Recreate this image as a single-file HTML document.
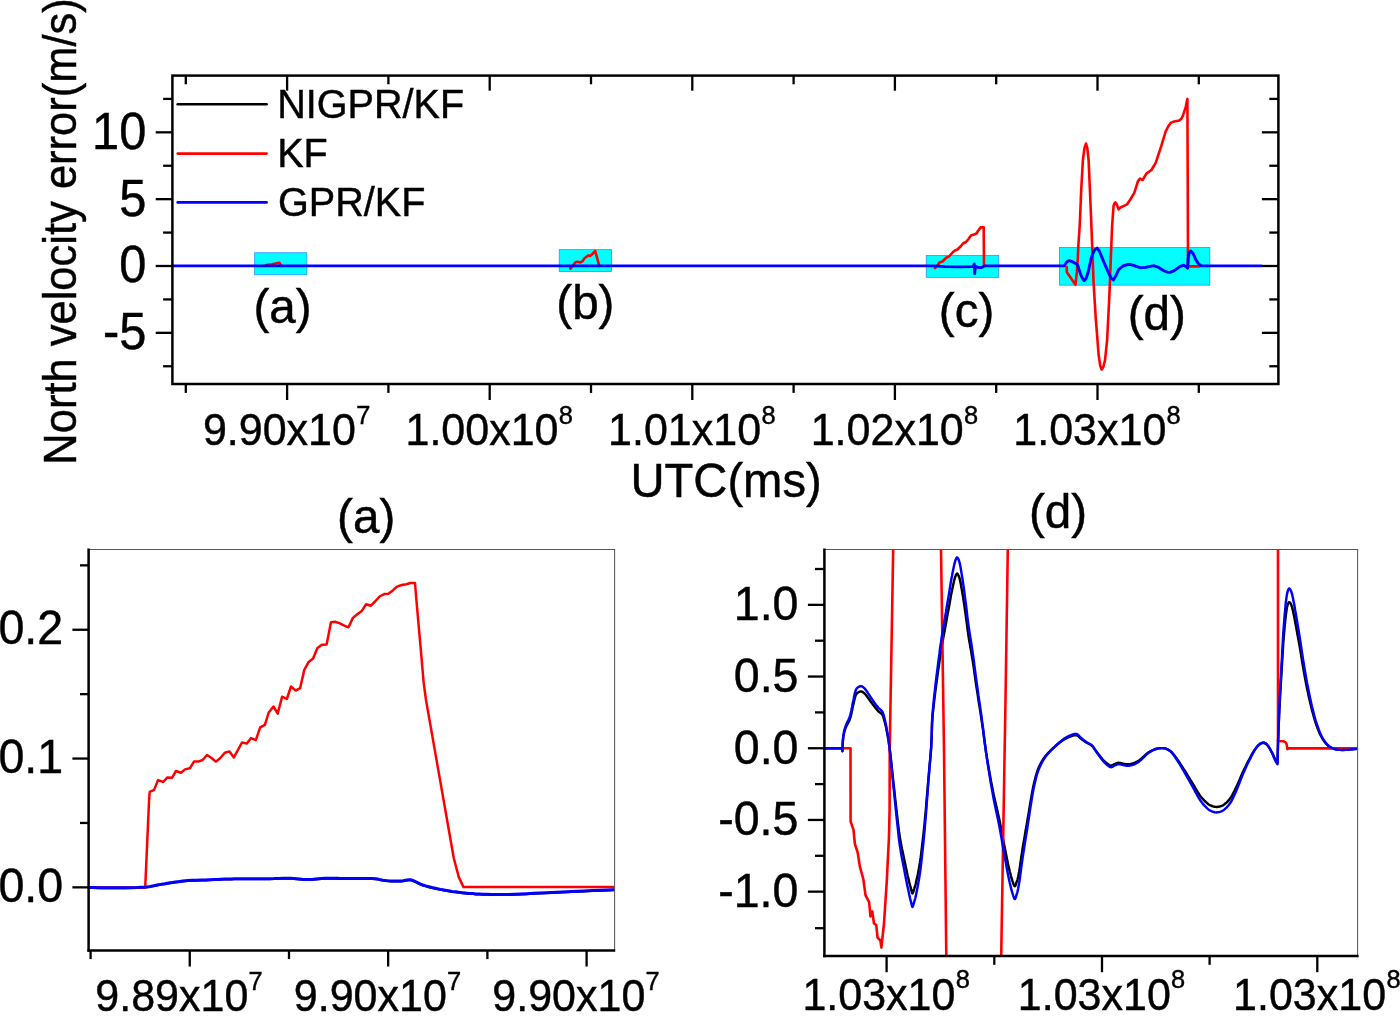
<!DOCTYPE html>
<html><head><meta charset="utf-8"><title>North velocity error</title>
<style>
html,body{margin:0;padding:0;background:#fff;}
body{width:1400px;height:1022px;overflow:hidden;}
svg{display:block;will-change:transform;}
svg text{font-family:"Liberation Sans",sans-serif;fill:#000;stroke:#000;stroke-width:0.45px;}
</style></head><body>
<svg width="1400" height="1022" viewBox="0 0 1400 1022">
<rect width="1400" height="1022" fill="#fff"/>
<rect x="254.65" y="252.75" width="52.20" height="22.00" fill="#00ffff" stroke="#3b8cff" stroke-width="0.8"/>
<rect x="559.25" y="249.65" width="52.20" height="21.80" fill="#00ffff" stroke="#3b8cff" stroke-width="0.8"/>
<rect x="926.25" y="255.55" width="72.50" height="21.80" fill="#00ffff" stroke="#3b8cff" stroke-width="0.8"/>
<rect x="1059.45" y="247.55" width="150.40" height="37.60" fill="#00ffff" stroke="#3b8cff" stroke-width="0.8"/>
<polyline points="265.3,265.9 266.2,265.0 272.0,264.2 279.3,262.7 280.0,263.5 281.2,265.9" fill="none" stroke="#f00" stroke-width="2.6" stroke-linejoin="round" stroke-linecap="butt" />
<polyline points="570.0,265.9 570.5,268.7 573.0,265.5 575.5,262.2 577.5,261.7 580.5,262.4 582.5,261.2 584.5,258.3 586.5,256.8 588.5,255.4 590.0,255.9 592.0,254.5 594.3,252.0 595.2,251.0 599.3,265.9" fill="none" stroke="#f00" stroke-width="2.6" stroke-linejoin="round" stroke-linecap="butt" />
<polyline points="934.6,265.9 935.0,268.2 937.5,265.5 939.5,262.5 942.5,261.5 946.5,257.5 949.0,256.5 953.0,252.0 955.0,250.5 957.5,249.5 961.0,246.0 963.0,243.5 966.0,242.0 968.5,239.0 971.0,235.5 974.0,234.5 976.5,233.5 978.0,231.0 980.7,227.4 983.7,227.2 984.0,265.9" fill="none" stroke="#f00" stroke-width="2.6" stroke-linejoin="round" stroke-linecap="butt" />
<polyline points="1066.6,265.9 1066.9,272.3 1075.5,284.8 1076.9,271.4 1077.8,258.2 1078.5,243.0 1079.7,226.0 1081.2,190.0 1082.9,160.0 1084.5,148.0 1086.0,143.6 1087.3,148.0 1088.6,160.0 1090.0,192.0 1091.4,226.0 1093.6,283.1 1095.7,317.4 1098.6,354.6 1100.3,366.0 1101.7,369.6 1103.3,367.0 1105.0,360.3 1107.1,340.3 1109.3,297.4 1110.7,261.7 1112.1,226.0 1113.6,205.7 1114.5,203.2 1115.4,202.4 1116.5,204.0 1118.6,209.3 1120.5,207.5 1122.9,206.4 1127.1,204.3 1130.0,200.0 1134.3,192.9 1137.9,181.4 1140.0,178.6 1142.6,180.0 1146.4,173.6 1151.4,170.0 1155.7,162.9 1161.4,145.7 1165.7,131.4 1168.5,126.0 1170.7,122.9 1174.3,121.4 1179.3,120.4 1181.5,118.5 1182.9,115.7 1185.7,107.1 1187.4,98.9 1187.9,225.7 1188.0,266.4 1200.5,266.4" fill="none" stroke="#f00" stroke-width="2.6" stroke-linejoin="round" stroke-linecap="butt" />
<polyline points="172.4,265.9 934.0,265.9 945.0,266.6 960.0,266.9 972.0,266.6 973.6,266.0 974.2,263.9 974.7,273.6 975.3,266.2 977.5,267.3 981.5,267.6 983.5,266.5 985.0,265.9 1064.3,265.9 1066.2,262.6 1067.8,261.2 1069.5,260.7 1072.0,261.6 1074.3,262.7 1076.5,264.0 1077.8,265.6 1080.7,274.6 1082.5,278.5 1084.3,280.7 1086.0,278.5 1087.9,273.1 1091.4,257.4 1093.3,252.5 1095.0,249.6 1097.1,248.1 1099.3,251.0 1104.3,263.1 1109.3,274.6 1111.5,278.5 1113.3,280.0 1115.7,276.0 1118.6,269.6 1122.9,266.0 1126.5,264.8 1130.0,264.3 1134.3,265.7 1140.0,267.7 1145.7,267.4 1150.0,266.3 1153.6,265.6 1158.6,267.4 1164.3,271.0 1167.5,272.1 1170.0,272.4 1174.3,270.6 1180.0,266.4 1183.6,265.3 1186.4,266.7 1187.6,268.1 1188.3,257.4 1189.3,252.8 1190.7,251.0 1192.9,253.1 1195.7,259.6 1198.6,263.9 1201.4,265.7 1204.0,265.9 1262.0,265.9" fill="none" stroke="#00f" stroke-width="2.9" stroke-linejoin="round" stroke-linecap="butt" />
<rect x="172.4" y="75.6" width="1106.0" height="308.4" fill="none" stroke="#000" stroke-width="2.5"/>
<line x1="287.10" y1="384.00" x2="287.10" y2="400.00" stroke="#000" stroke-width="2.3" />
<line x1="287.10" y1="75.60" x2="287.10" y2="90.70" stroke="#000" stroke-width="2.3" />
<line x1="489.70" y1="384.00" x2="489.70" y2="400.00" stroke="#000" stroke-width="2.3" />
<line x1="489.70" y1="75.60" x2="489.70" y2="90.70" stroke="#000" stroke-width="2.3" />
<line x1="692.30" y1="384.00" x2="692.30" y2="400.00" stroke="#000" stroke-width="2.3" />
<line x1="692.30" y1="75.60" x2="692.30" y2="90.70" stroke="#000" stroke-width="2.3" />
<line x1="894.90" y1="384.00" x2="894.90" y2="400.00" stroke="#000" stroke-width="2.3" />
<line x1="894.90" y1="75.60" x2="894.90" y2="90.70" stroke="#000" stroke-width="2.3" />
<line x1="1097.50" y1="384.00" x2="1097.50" y2="400.00" stroke="#000" stroke-width="2.3" />
<line x1="1097.50" y1="75.60" x2="1097.50" y2="90.70" stroke="#000" stroke-width="2.3" />
<line x1="185.80" y1="384.00" x2="185.80" y2="392.90" stroke="#000" stroke-width="2.3" />
<line x1="185.80" y1="75.60" x2="185.80" y2="84.30" stroke="#000" stroke-width="2.3" />
<line x1="388.40" y1="384.00" x2="388.40" y2="392.90" stroke="#000" stroke-width="2.3" />
<line x1="388.40" y1="75.60" x2="388.40" y2="84.30" stroke="#000" stroke-width="2.3" />
<line x1="591.00" y1="384.00" x2="591.00" y2="392.90" stroke="#000" stroke-width="2.3" />
<line x1="591.00" y1="75.60" x2="591.00" y2="84.30" stroke="#000" stroke-width="2.3" />
<line x1="793.60" y1="384.00" x2="793.60" y2="392.90" stroke="#000" stroke-width="2.3" />
<line x1="793.60" y1="75.60" x2="793.60" y2="84.30" stroke="#000" stroke-width="2.3" />
<line x1="996.20" y1="384.00" x2="996.20" y2="392.90" stroke="#000" stroke-width="2.3" />
<line x1="996.20" y1="75.60" x2="996.20" y2="84.30" stroke="#000" stroke-width="2.3" />
<line x1="1198.80" y1="384.00" x2="1198.80" y2="392.90" stroke="#000" stroke-width="2.3" />
<line x1="1198.80" y1="75.60" x2="1198.80" y2="84.30" stroke="#000" stroke-width="2.3" />
<line x1="155.70" y1="132.33" x2="172.40" y2="132.33" stroke="#000" stroke-width="2.3" />
<line x1="1261.90" y1="132.33" x2="1278.40" y2="132.33" stroke="#000" stroke-width="2.3" />
<line x1="155.70" y1="199.16" x2="172.40" y2="199.16" stroke="#000" stroke-width="2.3" />
<line x1="1261.90" y1="199.16" x2="1278.40" y2="199.16" stroke="#000" stroke-width="2.3" />
<line x1="155.70" y1="266.00" x2="172.40" y2="266.00" stroke="#000" stroke-width="2.3" />
<line x1="1261.90" y1="266.00" x2="1278.40" y2="266.00" stroke="#000" stroke-width="2.3" />
<line x1="155.70" y1="332.84" x2="172.40" y2="332.84" stroke="#000" stroke-width="2.3" />
<line x1="1261.90" y1="332.84" x2="1278.40" y2="332.84" stroke="#000" stroke-width="2.3" />
<line x1="163.10" y1="98.91" x2="172.40" y2="98.91" stroke="#000" stroke-width="2.3" />
<line x1="1269.30" y1="98.91" x2="1278.40" y2="98.91" stroke="#000" stroke-width="2.3" />
<line x1="163.10" y1="165.75" x2="172.40" y2="165.75" stroke="#000" stroke-width="2.3" />
<line x1="1269.30" y1="165.75" x2="1278.40" y2="165.75" stroke="#000" stroke-width="2.3" />
<line x1="163.10" y1="232.58" x2="172.40" y2="232.58" stroke="#000" stroke-width="2.3" />
<line x1="1269.30" y1="232.58" x2="1278.40" y2="232.58" stroke="#000" stroke-width="2.3" />
<line x1="163.10" y1="299.42" x2="172.40" y2="299.42" stroke="#000" stroke-width="2.3" />
<line x1="1269.30" y1="299.42" x2="1278.40" y2="299.42" stroke="#000" stroke-width="2.3" />
<line x1="163.10" y1="366.25" x2="172.40" y2="366.25" stroke="#000" stroke-width="2.3" />
<line x1="1269.30" y1="366.25" x2="1278.40" y2="366.25" stroke="#000" stroke-width="2.3" />
<text x="146.30" y="148.73" font-size="51.09" text-anchor="end" textLength="54.28" lengthAdjust="spacingAndGlyphs" >10</text>
<text x="146.30" y="215.56" font-size="51.09" text-anchor="end" textLength="27.14" lengthAdjust="spacingAndGlyphs" >5</text>
<text x="146.30" y="282.40" font-size="51.09" text-anchor="end" textLength="27.14" lengthAdjust="spacingAndGlyphs" >0</text>
<text x="146.30" y="349.24" font-size="51.09" text-anchor="end" textLength="43.39" lengthAdjust="spacingAndGlyphs" >-5</text>
<text x="202.90" y="444.70" font-size="44.50" text-anchor="start" textLength="153.02" lengthAdjust="spacingAndGlyphs" >9.90x10</text>
<text x="356.22" y="423.70" font-size="26.65" text-anchor="start" textLength="14.18" lengthAdjust="spacingAndGlyphs" >7</text>
<text x="405.50" y="444.70" font-size="44.50" text-anchor="start" textLength="153.02" lengthAdjust="spacingAndGlyphs" >1.00x10</text>
<text x="558.82" y="423.70" font-size="26.65" text-anchor="start" textLength="14.18" lengthAdjust="spacingAndGlyphs" >8</text>
<text x="608.10" y="444.70" font-size="44.50" text-anchor="start" textLength="153.02" lengthAdjust="spacingAndGlyphs" >1.01x10</text>
<text x="761.42" y="423.70" font-size="26.65" text-anchor="start" textLength="14.18" lengthAdjust="spacingAndGlyphs" >8</text>
<text x="810.70" y="444.70" font-size="44.50" text-anchor="start" textLength="153.02" lengthAdjust="spacingAndGlyphs" >1.02x10</text>
<text x="964.02" y="423.70" font-size="26.65" text-anchor="start" textLength="14.18" lengthAdjust="spacingAndGlyphs" >8</text>
<text x="1013.30" y="444.70" font-size="44.50" text-anchor="start" textLength="153.02" lengthAdjust="spacingAndGlyphs" >1.03x10</text>
<text x="1166.62" y="423.70" font-size="26.65" text-anchor="start" textLength="14.18" lengthAdjust="spacingAndGlyphs" >8</text>
<text x="630.40" y="496.80" font-size="47.91" text-anchor="start" textLength="191.36" lengthAdjust="spacingAndGlyphs" >UTC(ms)</text>
<text x="0.00" y="0.00" font-size="45.46" text-anchor="start" textLength="466.48" lengthAdjust="spacingAndGlyphs" transform="translate(76.3,464.7) rotate(-90)">North velocity error(m/s)</text>
<line x1="177.70" y1="104.30" x2="266.60" y2="104.30" stroke="#000" stroke-width="2.6" stroke-linecap="round"/>
<line x1="177.70" y1="153.60" x2="266.60" y2="153.60" stroke="#f00" stroke-width="2.6" stroke-linecap="round"/>
<line x1="177.70" y1="202.40" x2="266.60" y2="202.40" stroke="#00f" stroke-width="2.6" stroke-linecap="round"/>
<text x="277.20" y="117.70" font-size="41.38" text-anchor="start" textLength="187.02" lengthAdjust="spacingAndGlyphs" >NIGPR/KF</text>
<text x="277.20" y="166.70" font-size="41.38" text-anchor="start" textLength="50.60" lengthAdjust="spacingAndGlyphs" >KF</text>
<text x="278.00" y="215.80" font-size="41.38" text-anchor="start" textLength="147.42" lengthAdjust="spacingAndGlyphs" >GPR/KF</text>
<text x="282.50" y="322.70" font-size="47.60" text-anchor="middle" textLength="58.18" lengthAdjust="spacingAndGlyphs" >(a)</text>
<text x="585.40" y="319.20" font-size="47.60" text-anchor="middle" textLength="58.18" lengthAdjust="spacingAndGlyphs" >(b)</text>
<text x="966.60" y="327.00" font-size="47.60" text-anchor="middle" textLength="55.50" lengthAdjust="spacingAndGlyphs" >(c)</text>
<text x="1156.80" y="330.00" font-size="47.60" text-anchor="middle" textLength="58.18" lengthAdjust="spacingAndGlyphs" >(d)</text>
<clipPath id="ca"><rect x="88.7" y="549.4" width="526.1" height="401"/></clipPath>
<g clip-path="url(#ca)">
<polyline points="88.7,888.0 92.1,888.0 100.8,888.1 112.8,888.2 125.6,888.1 137.3,887.9 145.6,887.5 148.0,887.2 150.0,886.9 151.8,886.5 153.5,886.2 155.2,885.8 157.1,885.4 159.5,885.0 162.1,884.5 164.7,884.1 167.3,883.6 170.0,883.2 172.6,882.8 175.1,882.4 177.6,882.1 180.1,881.8 182.6,881.5 185.2,881.2 188.0,881.0 191.9,880.7 196.2,880.6 200.6,880.4 205.1,880.3 209.5,880.1 213.7,880.0 217.2,879.9 220.6,879.7 223.9,879.5 227.2,879.4 230.7,879.3 234.3,879.2 239.1,879.1 244.2,879.1 249.5,879.2 254.8,879.2 260.1,879.2 265.1,879.2 269.6,879.1 274.1,879.0 278.5,878.8 282.8,878.7 287.0,878.7 290.9,878.7 293.9,878.9 296.7,879.1 299.5,879.4 302.2,879.7 304.9,879.9 307.6,880.0 310.3,879.9 313.0,879.7 315.7,879.4 318.5,879.1 321.3,878.9 324.3,878.7 328.3,878.6 332.5,878.6 336.8,878.7 341.2,878.8 345.7,878.9 350.0,879.0 354.4,879.0 359.0,879.0 363.6,878.9 368.0,878.9 372.1,879.0 375.7,879.2 377.7,879.4 379.4,879.8 381.0,880.1 382.6,880.5 384.2,880.8 386.0,881.0 388.4,881.2 391.1,881.3 393.8,881.4 396.5,881.4 399.0,881.4 401.4,881.3 403.0,881.1 404.5,880.8 406.0,880.5 407.4,880.3 408.9,880.1 410.4,880.2 412.4,880.7 414.3,881.4 416.4,882.4 418.5,883.5 420.6,884.5 422.9,885.4 425.8,886.3 428.8,887.1 432.0,887.9 435.2,888.6 438.5,889.3 441.7,890.0 445.1,890.6 448.5,891.2 452.0,891.8 455.5,892.2 459.0,892.7 462.5,893.1 465.9,893.5 469.4,893.8 472.8,894.0 476.2,894.3 479.7,894.4 483.3,894.6 487.3,894.7 491.3,894.8 495.3,894.9 499.5,894.9 503.8,894.9 508.3,894.8 514.2,894.6 520.4,894.4 526.8,894.1 533.3,893.7 539.7,893.4 545.8,893.1 551.1,892.9 556.3,892.6 561.4,892.4 566.5,892.2 571.7,891.9 577.0,891.7 584.0,891.4 592.2,891.0 600.5,890.6 607.8,890.3 613.0,890.1 615.0,890.0" fill="none" stroke="#000" stroke-width="2.2" stroke-linejoin="round" stroke-linecap="butt" />
<polyline points="88.7,887.6 145.2,887.6 149.1,799.6 149.7,791.8 154.1,789.9 158.0,780.1 163.2,782.0 167.4,777.4 172.1,777.7 176.0,771.0 181.0,772.7 185.1,769.4 189.8,768.3 194.0,761.6 198.2,761.6 202.6,760.0 207.0,755.0 211.2,757.7 215.9,761.6 220.1,758.2 224.8,752.7 229.5,751.4 233.9,757.4 242.0,742.5 246.9,743.6 251.1,738.1 255.8,740.2 260.2,727.3 264.9,724.8 268.7,712.5 273.5,706.5 277.7,713.6 282.1,696.7 286.8,699.0 291.0,686.5 295.7,690.6 300.1,688.2 304.3,669.9 308.7,661.9 313.1,658.5 317.4,648.0 321.9,644.8 326.6,644.5 331.0,622.3 335.2,621.8 339.9,623.4 344.3,625.7 348.5,627.3 352.9,617.9 357.6,614.0 361.8,610.9 366.1,604.3 370.9,605.7 375.1,601.5 379.5,596.5 384.2,594.1 388.4,593.7 393.1,590.2 397.0,586.6 401.7,585.0 406.4,584.3 410.3,583.0 415.0,583.0 416.6,602.3 420.5,646.1 423.6,682.1 426.0,700.0 453.8,858.3 458.8,877.1 463.5,887.1 615.0,887.1" fill="none" stroke="#f00" stroke-width="2.5" stroke-linejoin="round" stroke-linecap="butt" />
<polyline points="88.7,887.6 92.1,887.6 100.8,887.7 112.8,887.8 125.6,887.7 137.3,887.5 145.6,887.1 148.0,886.8 150.0,886.5 151.8,886.1 153.5,885.8 155.2,885.4 157.1,885.0 159.5,884.6 162.1,884.1 164.7,883.7 167.3,883.2 170.0,882.8 172.6,882.4 175.1,882.0 177.6,881.7 180.1,881.4 182.6,881.1 185.2,880.8 188.0,880.6 191.9,880.3 196.2,880.2 200.6,880.0 205.1,879.9 209.5,879.7 213.7,879.6 217.2,879.5 220.6,879.3 223.9,879.1 227.2,879.0 230.7,878.9 234.3,878.8 239.1,878.7 244.2,878.7 249.5,878.8 254.8,878.8 260.1,878.8 265.1,878.8 269.6,878.7 274.1,878.6 278.5,878.4 282.8,878.3 287.0,878.3 290.9,878.3 293.9,878.5 296.7,878.7 299.5,879.0 302.2,879.3 304.9,879.5 307.6,879.6 310.3,879.5 313.0,879.3 315.7,879.0 318.5,878.7 321.3,878.5 324.3,878.3 328.3,878.2 332.5,878.2 336.8,878.3 341.2,878.4 345.7,878.5 350.0,878.6 354.4,878.6 359.0,878.6 363.6,878.5 368.0,878.5 372.1,878.6 375.7,878.8 377.7,879.0 379.4,879.4 381.0,879.7 382.6,880.1 384.2,880.4 386.0,880.6 388.4,880.8 391.1,880.9 393.8,881.0 396.5,881.0 399.0,881.0 401.4,880.9 403.0,880.7 404.5,880.4 406.0,880.1 407.4,879.9 408.9,879.7 410.4,879.8 412.4,880.3 414.3,881.0 416.4,882.0 418.5,883.1 420.6,884.1 422.9,885.0 425.8,885.9 428.8,886.7 432.0,887.5 435.2,888.2 438.5,888.9 441.7,889.6 445.1,890.2 448.5,890.8 452.0,891.4 455.5,891.8 459.0,892.3 462.5,892.7 465.9,893.1 469.4,893.4 472.8,893.6 476.2,893.9 479.7,894.0 483.3,894.2 487.3,894.3 491.3,894.4 495.3,894.5 499.5,894.5 503.8,894.5 508.3,894.4 514.2,894.2 520.4,894.0 526.8,893.7 533.3,893.3 539.7,893.0 545.8,892.7 551.1,892.5 556.3,892.2 561.4,892.0 566.5,891.8 571.7,891.5 577.0,891.3 584.0,891.0 592.2,890.6 600.5,890.2 607.8,889.9 613.0,889.7 615.0,889.6" fill="none" stroke="#00f" stroke-width="3.0" stroke-linejoin="round" stroke-linecap="butt" />
</g>
<line x1="88.70" y1="549.45" x2="615.10" y2="549.45" stroke="#585858" stroke-width="1.05" />
<line x1="614.60" y1="549.00" x2="614.60" y2="951.30" stroke="#585858" stroke-width="1.05" />
<line x1="88.60" y1="548.40" x2="88.60" y2="951.70" stroke="#000" stroke-width="2.5" />
<line x1="87.45" y1="950.45" x2="615.20" y2="950.45" stroke="#000" stroke-width="2.5" />
<line x1="189.75" y1="950.45" x2="189.75" y2="966.50" stroke="#000" stroke-width="2.3" />
<line x1="388.15" y1="950.45" x2="388.15" y2="966.50" stroke="#000" stroke-width="2.3" />
<line x1="586.60" y1="950.45" x2="586.60" y2="966.50" stroke="#000" stroke-width="2.3" />
<line x1="90.60" y1="950.45" x2="90.60" y2="959.10" stroke="#000" stroke-width="2.3" />
<line x1="289.00" y1="950.45" x2="289.00" y2="959.10" stroke="#000" stroke-width="2.3" />
<line x1="487.40" y1="950.45" x2="487.40" y2="959.10" stroke="#000" stroke-width="2.3" />
<line x1="72.40" y1="629.75" x2="88.70" y2="629.75" stroke="#000" stroke-width="2.3" />
<line x1="72.40" y1="758.55" x2="88.70" y2="758.55" stroke="#000" stroke-width="2.3" />
<line x1="72.40" y1="887.35" x2="88.70" y2="887.35" stroke="#000" stroke-width="2.3" />
<line x1="80.00" y1="565.35" x2="88.70" y2="565.35" stroke="#000" stroke-width="2.3" />
<line x1="80.00" y1="694.15" x2="88.70" y2="694.15" stroke="#000" stroke-width="2.3" />
<line x1="80.00" y1="822.95" x2="88.70" y2="822.95" stroke="#000" stroke-width="2.3" />
<text x="63.20" y="644.05" font-size="48.93" text-anchor="end" textLength="64.78" lengthAdjust="spacingAndGlyphs" >0.2</text>
<text x="63.20" y="772.85" font-size="48.93" text-anchor="end" textLength="64.78" lengthAdjust="spacingAndGlyphs" >0.1</text>
<text x="63.20" y="901.65" font-size="48.93" text-anchor="end" textLength="64.78" lengthAdjust="spacingAndGlyphs" >0.0</text>
<text x="95.30" y="1010.60" font-size="44.50" text-anchor="start" textLength="153.02" lengthAdjust="spacingAndGlyphs" >9.89x10</text>
<text x="248.62" y="989.90" font-size="26.65" text-anchor="start" textLength="14.18" lengthAdjust="spacingAndGlyphs" >7</text>
<text x="293.80" y="1010.60" font-size="44.50" text-anchor="start" textLength="153.02" lengthAdjust="spacingAndGlyphs" >9.90x10</text>
<text x="447.12" y="989.90" font-size="26.65" text-anchor="start" textLength="14.18" lengthAdjust="spacingAndGlyphs" >7</text>
<text x="492.30" y="1010.60" font-size="44.50" text-anchor="start" textLength="153.02" lengthAdjust="spacingAndGlyphs" >9.90x10</text>
<text x="645.62" y="989.90" font-size="26.65" text-anchor="start" textLength="14.18" lengthAdjust="spacingAndGlyphs" >7</text>
<text x="366.20" y="533.20" font-size="47.60" text-anchor="middle" textLength="58.18" lengthAdjust="spacingAndGlyphs" >(a)</text>
<clipPath id="cd"><rect x="824.4" y="549.4" width="533.2" height="406.7"/></clipPath>
<g clip-path="url(#cd)">
<polyline points="824.4,748.3 841.8,748.3 842.4,751.0 842.4,750.3 842.5,748.6 842.6,746.2 842.7,743.5 842.9,740.8 843.1,738.6 843.3,737.0 843.6,735.4 843.9,733.9 844.2,732.4 844.6,730.9 845.1,729.4 845.8,727.6 846.6,725.8 847.5,724.0 848.5,722.2 849.4,720.3 850.1,718.4 850.7,716.3 851.3,714.1 851.7,711.9 852.2,709.8 852.6,707.6 853.1,705.5 853.6,703.5 854.0,701.4 854.5,699.4 855.0,697.5 855.5,695.8 856.1,694.5 856.5,694.0 856.8,693.5 857.2,693.1 857.6,692.8 858.1,692.5 858.5,692.2 858.9,692.0 859.3,691.8 859.8,691.6 860.2,691.5 860.7,691.4 861.1,691.4 861.5,691.5 862.0,691.6 862.4,691.8 862.8,692.1 863.2,692.4 863.6,692.7 864.0,693.0 864.5,693.4 864.9,693.8 865.3,694.3 865.7,694.8 866.2,695.4 867.1,696.5 868.0,697.8 869.1,699.3 870.1,700.8 871.2,702.3 872.2,703.6 873.2,704.9 874.2,706.3 875.2,707.6 876.3,708.8 877.2,710.0 878.2,711.1 878.9,711.7 879.6,712.3 880.3,712.8 881.0,713.4 881.6,714.0 882.2,714.7 882.9,715.9 883.4,717.3 883.9,718.8 884.3,720.5 884.8,722.2 885.2,723.9 885.8,726.1 886.3,728.6 886.8,731.2 887.3,733.8 887.8,736.3 888.2,738.6 888.5,740.2 888.7,741.7 888.9,743.1 889.1,744.6 889.4,746.2 889.6,748.0 890.0,751.6 890.5,755.7 891.0,760.2 891.5,764.8 892.0,769.5 892.5,774.1 893.0,778.8 893.5,783.5 894.1,788.3 894.6,793.1 895.1,798.0 895.7,803.0 896.3,808.7 897.0,814.6 897.7,820.7 898.4,826.6 899.1,832.3 899.9,837.6 900.6,841.5 901.2,845.1 901.9,848.6 902.7,852.0 903.4,855.4 904.1,858.8 904.8,862.2 905.5,865.5 906.2,868.8 906.9,872.1 907.6,875.2 908.3,878.0 908.8,880.1 909.2,882.1 909.7,884.0 910.2,885.8 910.6,887.4 911.0,888.9 911.3,889.9 911.5,890.9 911.8,891.9 912.0,892.7 912.2,893.2 912.5,893.4 912.7,893.2 913.0,892.7 913.2,892.0 913.5,891.1 913.8,890.2 914.0,889.4 914.3,888.6 914.6,887.7 914.8,886.9 915.1,886.0 915.4,885.0 915.7,883.8 916.3,881.1 917.0,878.0 917.8,874.4 918.5,870.6 919.2,866.7 919.9,862.7 920.7,857.4 921.4,851.8 922.1,845.9 922.8,839.9 923.5,833.9 924.1,828.0 924.7,822.2 925.2,816.3 925.8,810.4 926.3,804.5 926.7,798.9 927.2,793.4 927.6,789.0 927.9,784.7 928.3,780.5 928.6,776.4 929.0,772.3 929.3,768.3 929.6,764.7 930.0,761.3 930.3,757.8 930.6,754.4 930.9,750.8 931.2,747.1 931.4,742.6 931.6,737.8 931.8,733.0 931.9,728.1 932.1,723.2 932.4,718.4 932.8,713.7 933.3,709.0 933.8,704.4 934.3,699.8 934.9,695.2 935.4,690.8 935.9,687.0 936.4,683.3 936.9,679.6 937.4,676.0 937.9,672.4 938.4,668.8 938.9,665.4 939.4,662.0 939.8,658.7 940.3,655.3 940.9,652.0 941.4,648.6 942.0,644.9 942.7,641.3 943.3,637.6 944.0,633.9 944.7,630.2 945.4,626.5 946.1,622.8 946.7,619.1 947.4,615.3 948.1,611.6 948.8,608.0 949.4,604.6 949.9,601.6 950.4,598.8 950.9,595.9 951.4,593.2 952.0,590.6 952.5,588.0 953.0,585.8 953.5,583.5 954.0,581.3 954.5,579.3 955.0,577.5 955.5,576.1 955.8,575.5 956.0,574.9 956.3,574.4 956.6,574.0 956.8,573.7 957.1,573.6 957.4,573.8 957.8,574.2 958.1,574.8 958.5,575.5 958.8,576.2 959.1,577.0 959.6,578.4 960.0,580.1 960.4,581.9 960.8,583.9 961.1,585.9 961.5,588.0 962.0,590.7 962.5,593.6 963.0,596.6 963.5,599.8 964.0,603.0 964.5,606.4 965.1,610.9 965.8,615.8 966.5,620.8 967.1,625.9 967.8,631.0 968.5,635.8 969.1,639.9 969.8,643.8 970.5,647.7 971.2,651.6 971.8,655.6 972.5,659.6 973.2,664.1 973.9,668.7 974.5,673.3 975.2,678.0 975.8,682.6 976.5,687.2 977.2,691.6 977.9,696.0 978.5,700.4 979.2,704.7 979.9,708.9 980.5,712.9 981.0,716.1 981.5,719.2 981.9,722.2 982.3,725.2 982.8,728.2 983.2,731.2 983.6,734.3 984.0,737.3 984.4,740.4 984.8,743.5 985.3,746.5 985.7,749.6 986.1,752.5 986.6,755.3 987.0,758.1 987.5,761.0 988.0,764.0 988.5,767.1 989.3,771.4 990.1,776.0 990.9,780.7 991.9,785.4 992.8,790.2 993.7,794.7 994.6,798.7 995.5,802.7 996.4,806.5 997.3,810.4 998.2,814.4 999.1,818.4 1000.0,822.9 1000.9,827.4 1001.8,832.1 1002.6,836.7 1003.5,841.4 1004.4,845.9 1005.3,850.4 1006.2,854.9 1007.1,859.5 1008.0,863.8 1008.9,867.9 1009.8,871.6 1010.4,873.7 1010.9,875.8 1011.4,877.7 1012.0,879.5 1012.5,881.1 1013.0,882.5 1013.3,883.4 1013.6,884.2 1013.9,885.0 1014.2,885.7 1014.5,886.1 1014.8,886.3 1015.1,886.1 1015.4,885.6 1015.7,885.0 1016.0,884.2 1016.2,883.3 1016.5,882.5 1016.8,881.5 1017.2,880.5 1017.5,879.5 1017.8,878.3 1018.1,877.0 1018.4,875.5 1019.1,871.9 1019.8,867.6 1020.5,862.8 1021.2,857.7 1022.0,852.7 1022.7,847.9 1023.4,843.6 1024.2,839.3 1024.9,835.1 1025.6,830.8 1026.4,826.6 1027.1,822.3 1027.8,818.0 1028.6,813.6 1029.3,809.1 1030.0,804.8 1030.7,800.6 1031.4,796.7 1031.9,793.8 1032.4,791.1 1032.9,788.5 1033.4,786.0 1034.0,783.5 1034.6,781.0 1035.2,778.6 1035.8,776.2 1036.5,773.8 1037.2,771.5 1038.0,769.3 1038.9,767.1 1039.8,765.2 1040.8,763.3 1041.8,761.5 1042.9,759.7 1044.1,757.9 1045.3,756.3 1046.6,754.7 1048.0,753.1 1049.5,751.7 1051.0,750.2 1052.5,748.8 1054.0,747.5 1055.4,746.2 1056.8,745.0 1058.3,743.8 1059.7,742.6 1061.2,741.5 1062.6,740.5 1063.9,739.7 1065.1,739.0 1066.4,738.3 1067.6,737.6 1068.9,737.1 1070.1,736.6 1071.2,736.2 1072.3,735.8 1073.5,735.4 1074.6,735.2 1075.6,735.1 1076.6,735.2 1077.4,735.5 1078.1,736.0 1078.8,736.6 1079.5,737.3 1080.2,738.0 1080.9,738.6 1081.8,739.3 1082.6,739.9 1083.5,740.6 1084.5,741.3 1085.4,741.9 1086.3,742.5 1087.2,743.0 1088.1,743.5 1089.0,743.9 1089.9,744.3 1090.8,744.8 1091.6,745.5 1092.6,746.4 1093.5,747.5 1094.3,748.6 1095.2,749.9 1096.1,751.1 1097.0,752.3 1098.1,753.7 1099.2,755.1 1100.3,756.5 1101.4,757.9 1102.5,759.2 1103.5,760.3 1104.2,761.0 1104.9,761.6 1105.5,762.2 1106.2,762.8 1106.8,763.3 1107.5,763.8 1108.1,764.2 1108.7,764.6 1109.2,765.0 1109.8,765.3 1110.4,765.5 1111.0,765.6 1111.6,765.5 1112.3,765.3 1113.0,764.9 1113.7,764.5 1114.3,764.1 1115.0,763.9 1115.6,763.6 1116.2,763.4 1116.8,763.2 1117.3,763.0 1118.0,762.9 1118.6,762.8 1119.4,762.9 1120.3,763.0 1121.2,763.2 1122.2,763.5 1123.1,763.7 1124.0,763.9 1124.9,764.0 1125.7,764.1 1126.6,764.2 1127.5,764.3 1128.4,764.3 1129.3,764.2 1130.6,764.0 1132.0,763.6 1133.5,763.2 1135.0,762.6 1136.4,762.0 1137.9,761.2 1139.7,760.0 1141.6,758.4 1143.5,756.7 1145.4,755.0 1147.1,753.5 1148.7,752.3 1149.6,751.8 1150.4,751.3 1151.2,750.9 1151.9,750.5 1152.7,750.2 1153.5,749.9 1154.3,749.5 1155.1,749.2 1155.9,749.0 1156.7,748.7 1157.5,748.5 1158.4,748.4 1159.4,748.3 1160.5,748.2 1161.6,748.1 1162.7,748.1 1163.8,748.2 1164.9,748.4 1165.9,748.7 1166.9,749.1 1167.9,749.5 1168.9,750.1 1169.9,750.7 1170.8,751.4 1171.9,752.4 1173.0,753.7 1174.1,755.0 1175.1,756.4 1176.2,757.8 1177.2,759.3 1178.3,760.8 1179.4,762.4 1180.4,764.0 1181.5,765.6 1182.6,767.3 1183.7,769.1 1185.1,771.2 1186.5,773.5 1187.9,775.8 1189.4,778.2 1190.9,780.6 1192.3,782.9 1193.7,785.2 1195.1,787.7 1196.6,790.1 1198.0,792.5 1199.4,794.7 1200.9,796.7 1202.1,798.2 1203.4,799.6 1204.7,801.0 1206.0,802.2 1207.2,803.3 1208.4,804.2 1209.1,804.7 1209.8,805.1 1210.5,805.4 1211.2,805.7 1211.8,806.0 1212.5,806.2 1213.1,806.4 1213.8,806.6 1214.5,806.7 1215.1,806.8 1215.8,806.9 1216.4,807.0 1217.0,806.9 1217.6,806.9 1218.2,806.8 1218.8,806.7 1219.4,806.6 1220.0,806.4 1220.6,806.2 1221.2,806.1 1221.7,805.9 1222.3,805.6 1222.9,805.3 1223.5,804.9 1224.5,804.2 1225.6,803.3 1226.7,802.3 1227.9,801.1 1229.0,799.9 1230.0,798.6 1231.2,796.9 1232.3,795.1 1233.3,793.1 1234.4,791.0 1235.4,788.9 1236.4,786.8 1237.5,784.5 1238.6,782.0 1239.7,779.5 1240.7,777.0 1241.8,774.5 1242.9,772.1 1243.9,769.9 1245.0,767.7 1246.1,765.5 1247.1,763.4 1248.2,761.3 1249.3,759.3 1250.4,757.3 1251.4,755.4 1252.5,753.4 1253.6,751.6 1254.7,749.9 1255.8,748.4 1256.5,747.5 1257.2,746.6 1258.0,745.9 1258.7,745.2 1259.4,744.6 1260.1,744.1 1260.6,743.8 1261.2,743.5 1261.7,743.2 1262.3,743.1 1262.8,742.9 1263.3,742.9 1263.7,742.9 1264.1,743.0 1264.4,743.1 1264.8,743.3 1265.2,743.4 1265.5,743.6 1265.9,743.9 1266.2,744.1 1266.6,744.4 1266.9,744.7 1267.2,745.1 1267.6,745.5 1268.3,746.3 1269.0,747.4 1269.8,748.6 1270.5,749.8 1271.2,751.1 1271.9,752.3 1272.5,753.5 1273.1,754.7 1273.6,755.9 1274.1,757.1 1274.7,758.3 1275.2,759.3 1275.6,760.0 1276.1,760.8 1276.6,761.6 1277.1,762.2 1277.4,762.7 1277.5,762.8 1278.0,743.5 1278.0,742.2 1278.2,738.5 1278.4,733.3 1278.6,727.2 1278.9,721.0 1279.1,715.4 1279.4,709.2 1279.8,702.7 1280.1,696.1 1280.5,689.3 1280.9,682.6 1281.3,675.9 1281.7,669.3 1282.1,662.5 1282.5,655.7 1282.9,649.1 1283.3,642.6 1283.8,636.6 1284.2,631.8 1284.6,627.0 1285.1,622.4 1285.5,618.0 1286.0,614.2 1286.4,611.0 1286.6,609.6 1286.8,608.3 1287.0,607.2 1287.3,606.1 1287.5,605.2 1287.8,604.4 1288.0,603.9 1288.2,603.3 1288.5,602.9 1288.7,602.5 1288.9,602.2 1289.2,602.1 1289.5,602.1 1289.7,602.4 1290.0,602.7 1290.3,603.1 1290.6,603.5 1290.8,603.9 1291.1,604.6 1291.4,605.3 1291.7,606.1 1292.0,606.9 1292.2,607.9 1292.5,608.9 1293.0,611.0 1293.5,613.4 1294.1,616.1 1294.6,618.9 1295.1,621.8 1295.7,624.7 1296.4,628.3 1297.1,632.2 1297.8,636.2 1298.6,640.2 1299.3,644.3 1300.0,648.4 1300.7,652.6 1301.4,656.9 1302.1,661.3 1302.8,665.6 1303.6,669.8 1304.3,674.0 1305.0,677.8 1305.7,681.5 1306.4,685.1 1307.1,688.7 1307.9,692.2 1308.6,695.7 1309.3,698.8 1310.0,701.8 1310.7,704.8 1311.4,707.7 1312.1,710.6 1312.9,713.3 1313.6,715.8 1314.2,718.1 1314.9,720.5 1315.6,722.7 1316.4,725.0 1317.2,727.2 1318.0,729.2 1318.8,731.3 1319.7,733.4 1320.6,735.3 1321.6,737.2 1322.6,739.0 1323.6,740.4 1324.6,741.8 1325.7,743.2 1326.8,744.4 1327.9,745.5 1329.1,746.5 1330.1,747.1 1331.2,747.7 1332.2,748.2 1333.3,748.6 1334.4,748.9 1335.5,749.2 1336.6,749.4 1337.6,749.6 1338.7,749.7 1339.8,749.8 1340.9,749.8 1342.0,749.9 1343.2,749.9 1344.4,749.8 1345.7,749.8 1347.0,749.7 1348.2,749.6 1349.5,749.5 1351.0,749.4 1352.8,749.2 1354.5,749.1 1356.1,748.9 1357.2,748.8 1357.6,748.8" fill="none" stroke="#000" stroke-width="2.45" stroke-linejoin="round" stroke-linecap="butt" />
<polyline points="824.4,748.3 850.5,748.3 850.6,821.3 853.5,829.9 854.9,844.0 857.7,852.6 859.9,866.7 863.4,879.5 865.5,895.1 869.1,902.2 870.5,916.4 872.3,911.4 874.0,923.5 876.2,924.9 877.6,937.7 880.4,940.5 881.4,947.6 884.0,923.5 886.8,880.9 888.9,838.4 889.6,810.0 889.7,749.7 893.2,549.0 893.3,500.0 940.9,500.0 941.0,549.0 944.0,749.7 946.3,956.0 946.5,1000.0 1001.0,1000.0 1001.2,956.0 1005.5,700.0 1007.8,549.0 1008.0,500.0 1277.9,500.0 1278.0,549.0 1278.0,741.0 1283.8,741.3 1285.8,742.5 1286.6,744.1 1287.4,749.1 1289.0,748.4 1357.6,748.4" fill="none" stroke="#f00" stroke-width="2.6" stroke-linejoin="round" stroke-linecap="butt" />
<polyline points="824.4,748.3 841.8,748.3 842.4,751.2 842.4,750.5 842.5,748.6 842.6,746.0 842.7,743.0 842.9,740.1 843.1,737.7 843.3,735.9 843.6,734.2 843.9,732.6 844.2,730.9 844.6,729.3 845.1,727.6 845.8,725.7 846.6,723.7 847.5,721.7 848.5,719.7 849.4,717.7 850.1,715.6 850.7,713.3 851.3,711.0 851.7,708.6 852.2,706.2 852.6,703.8 853.1,701.5 853.6,699.3 854.0,697.1 854.5,694.8 854.9,692.8 855.5,690.9 856.1,689.5 856.5,688.9 856.8,688.4 857.2,688.0 857.6,687.6 858.1,687.3 858.5,687.0 858.9,686.8 859.3,686.5 859.8,686.3 860.2,686.2 860.7,686.1 861.1,686.1 861.5,686.2 862.0,686.4 862.4,686.6 862.8,686.9 863.2,687.2 863.6,687.5 864.0,687.9 864.5,688.3 864.9,688.8 865.3,689.3 865.7,689.9 866.2,690.5 867.1,691.7 868.0,693.1 869.1,694.7 870.1,696.4 871.2,698.0 872.2,699.5 873.2,700.9 874.2,702.4 875.2,703.8 876.2,705.2 877.2,706.4 878.2,707.6 878.9,708.3 879.6,709.0 880.3,709.5 881.0,710.1 881.6,710.8 882.2,711.6 882.9,712.9 883.4,714.4 883.9,716.1 884.3,717.9 884.8,719.7 885.2,721.6 885.8,724.1 886.3,726.8 886.8,729.6 887.3,732.4 887.8,735.2 888.2,737.7 888.5,739.5 888.7,741.1 888.9,742.7 889.1,744.3 889.4,746.0 889.6,748.0 890.0,751.9 890.5,756.4 891.0,761.3 891.5,766.4 892.0,771.5 892.5,776.5 893.0,781.6 893.5,786.8 894.1,792.0 894.6,797.3 895.1,802.7 895.7,808.1 896.3,814.3 897.0,820.8 897.7,827.4 898.4,833.9 899.1,840.1 899.9,845.9 900.6,850.1 901.2,854.1 901.9,857.9 902.7,861.7 903.4,865.4 904.1,869.1 904.8,872.7 905.5,876.4 906.2,880.0 906.9,883.6 907.6,887.0 908.3,890.1 908.8,892.3 909.2,894.5 909.7,896.6 910.1,898.5 910.6,900.4 911.0,902.0 911.3,903.1 911.5,904.2 911.8,905.2 912.0,906.1 912.2,906.7 912.5,906.9 912.7,906.7 913.0,906.1 913.2,905.3 913.5,904.4 913.8,903.4 914.0,902.5 914.3,901.6 914.6,900.7 914.8,899.8 915.1,898.8 915.4,897.7 915.7,896.4 916.3,893.5 917.0,890.0 917.8,886.1 918.5,882.0 919.2,877.7 919.9,873.3 920.7,867.5 921.4,861.4 922.1,854.9 922.8,848.4 923.5,841.8 924.1,835.4 924.7,829.0 925.2,822.6 925.8,816.1 926.3,809.8 926.7,803.5 927.2,797.6 927.6,792.8 927.9,788.1 928.3,783.5 928.6,779.0 929.0,774.6 929.3,770.2 929.6,766.3 930.0,762.5 930.3,758.7 930.6,754.9 930.9,751.0 931.2,747.0 931.4,742.0 931.6,736.9 931.8,731.6 931.9,726.2 932.1,720.8 932.4,715.6 932.8,710.5 933.3,705.4 933.8,700.3 934.3,695.3 934.9,690.3 935.4,685.5 935.9,681.3 936.4,677.2 936.9,673.2 937.4,669.3 937.9,665.3 938.4,661.4 938.9,657.7 939.4,654.0 939.8,650.3 940.3,646.7 940.9,643.0 941.4,639.3 942.0,635.3 942.7,631.3 943.3,627.3 944.0,623.3 944.7,619.2 945.4,615.2 946.1,611.2 946.7,607.1 947.4,603.0 948.1,598.9 948.8,595.0 949.4,591.2 949.9,588.0 950.4,584.9 950.9,581.8 951.4,578.8 952.0,575.9 952.5,573.1 953.0,570.7 953.5,568.2 954.0,565.8 954.5,563.6 955.0,561.7 955.5,560.1 955.8,559.5 956.0,558.8 956.3,558.3 956.6,557.8 956.8,557.5 957.1,557.4 957.4,557.6 957.8,558.0 958.1,558.6 958.5,559.4 958.8,560.3 959.1,561.1 959.6,562.6 960.0,564.5 960.4,566.5 960.8,568.6 961.1,570.8 961.5,573.1 962.0,576.1 962.5,579.2 963.0,582.5 963.5,586.0 964.0,589.5 964.5,593.2 965.1,598.2 965.8,603.5 966.5,609.0 967.1,614.6 967.8,620.1 968.5,625.3 969.1,629.8 969.8,634.1 970.5,638.4 971.2,642.7 971.8,647.0 972.5,651.4 973.2,656.3 973.9,661.3 974.5,666.4 975.2,671.5 975.8,676.5 976.5,681.5 977.2,686.3 977.9,691.1 978.5,695.9 979.2,700.6 979.9,705.2 980.5,709.6 981.0,713.1 981.5,716.5 981.9,719.8 982.3,723.1 982.8,726.3 983.2,729.6 983.6,733.0 984.0,736.3 984.4,739.7 984.8,743.0 985.3,746.4 985.7,749.7 986.1,752.9 986.6,756.0 987.0,759.1 987.5,762.2 988.0,765.5 988.5,768.9 989.3,773.6 990.1,778.5 990.9,783.7 991.9,788.9 992.8,794.0 993.7,799.0 994.6,803.4 995.5,807.7 996.4,812.0 997.3,816.2 998.2,820.5 999.1,824.9 1000.0,829.8 1000.9,834.8 1001.8,839.9 1002.6,845.0 1003.5,850.0 1004.4,855.0 1005.3,859.9 1006.2,864.8 1007.1,869.8 1008.0,874.6 1008.9,879.0 1009.8,883.0 1010.4,885.4 1010.9,887.6 1011.4,889.7 1012.0,891.7 1012.5,893.4 1013.0,895.0 1013.3,895.9 1013.6,896.8 1013.9,897.7 1014.2,898.4 1014.5,898.9 1014.8,899.1 1015.1,898.9 1015.4,898.4 1015.7,897.6 1016.0,896.8 1016.2,895.9 1016.5,895.0 1016.8,893.9 1017.2,892.8 1017.5,891.6 1017.8,890.3 1018.1,888.9 1018.4,887.3 1019.1,883.4 1019.8,878.7 1020.5,873.4 1021.2,867.9 1022.0,862.4 1022.7,857.2 1023.4,852.5 1024.2,847.8 1024.9,843.1 1025.6,838.5 1026.4,833.9 1027.1,829.2 1027.8,824.5 1028.6,819.6 1029.3,814.8 1030.0,810.0 1030.7,805.5 1031.4,801.2 1031.9,798.1 1032.4,795.1 1032.9,792.3 1033.4,789.5 1034.0,786.7 1034.6,784.0 1035.2,781.4 1035.8,778.8 1036.5,776.2 1037.2,773.7 1038.0,771.3 1038.9,768.9 1039.8,766.8 1040.8,764.7 1041.8,762.7 1042.9,760.7 1044.1,758.8 1045.3,757.0 1046.6,755.3 1048.0,753.6 1049.5,752.0 1051.0,750.4 1052.5,748.9 1054.0,747.4 1055.4,746.0 1056.8,744.7 1058.3,743.3 1059.7,742.1 1061.2,740.9 1062.6,739.8 1063.8,738.9 1065.1,738.1 1066.4,737.3 1067.6,736.6 1068.9,736.0 1070.1,735.5 1071.2,735.1 1072.3,734.6 1073.5,734.3 1074.6,734.0 1075.6,733.9 1076.6,734.0 1077.4,734.3 1078.1,734.9 1078.8,735.5 1079.5,736.3 1080.2,737.0 1080.9,737.7 1081.8,738.4 1082.6,739.2 1083.5,739.9 1084.5,740.6 1085.4,741.3 1086.3,742.0 1087.2,742.6 1088.1,743.0 1089.0,743.5 1089.9,744.0 1090.8,744.5 1091.6,745.2 1092.6,746.2 1093.5,747.4 1094.3,748.7 1095.2,750.0 1096.1,751.4 1097.0,752.7 1098.1,754.2 1099.2,755.7 1100.3,757.3 1101.4,758.8 1102.5,760.2 1103.5,761.4 1104.2,762.2 1104.9,762.9 1105.5,763.5 1106.2,764.1 1106.8,764.7 1107.5,765.2 1108.1,765.6 1108.6,766.1 1109.2,766.5 1109.8,766.9 1110.4,767.1 1111.0,767.2 1111.6,767.1 1112.3,766.8 1113.0,766.5 1113.7,766.0 1114.3,765.6 1115.0,765.3 1115.6,765.1 1116.2,764.8 1116.8,764.6 1117.3,764.4 1118.0,764.3 1118.6,764.2 1119.4,764.2 1120.3,764.4 1121.2,764.6 1122.2,764.9 1123.1,765.1 1124.0,765.3 1124.9,765.4 1125.7,765.6 1126.6,765.7 1127.5,765.8 1128.4,765.8 1129.3,765.7 1130.6,765.4 1132.0,765.1 1133.5,764.6 1135.0,764.0 1136.4,763.2 1137.9,762.4 1139.7,761.1 1141.6,759.4 1143.5,757.5 1145.4,755.7 1147.1,754.0 1148.7,752.7 1149.6,752.1 1150.4,751.6 1151.2,751.1 1151.9,750.7 1152.7,750.4 1153.5,750.0 1154.3,749.7 1155.1,749.3 1155.9,749.0 1156.7,748.8 1157.5,748.6 1158.4,748.4 1159.4,748.3 1160.5,748.1 1161.6,748.1 1162.7,748.1 1163.8,748.2 1164.9,748.4 1165.9,748.7 1166.9,749.1 1167.9,749.6 1168.9,750.2 1169.9,750.9 1170.8,751.7 1171.9,752.8 1173.0,754.2 1174.1,755.6 1175.1,757.2 1176.2,758.7 1177.2,760.3 1178.3,762.0 1179.4,763.7 1180.4,765.4 1181.5,767.2 1182.6,769.1 1183.7,771.0 1185.1,773.4 1186.5,775.8 1187.9,778.4 1189.4,781.0 1190.9,783.6 1192.3,786.1 1193.7,788.7 1195.1,791.3 1196.5,794.0 1198.0,796.6 1199.4,799.0 1200.9,801.2 1202.1,802.8 1203.4,804.4 1204.7,805.9 1206.0,807.2 1207.2,808.4 1208.4,809.4 1209.1,809.9 1209.8,810.4 1210.5,810.7 1211.1,811.1 1211.8,811.3 1212.5,811.6 1213.1,811.8 1213.8,812.0 1214.5,812.2 1215.1,812.3 1215.8,812.4 1216.4,812.4 1217.0,812.4 1217.6,812.3 1218.2,812.2 1218.8,812.1 1219.4,812.0 1220.0,811.8 1220.6,811.6 1221.2,811.4 1221.7,811.2 1222.3,810.9 1222.9,810.6 1223.5,810.2 1224.5,809.4 1225.6,808.4 1226.7,807.3 1227.9,806.0 1229.0,804.7 1230.0,803.3 1231.2,801.5 1232.3,799.4 1233.3,797.3 1234.4,795.0 1235.4,792.7 1236.4,790.4 1237.5,787.8 1238.6,785.1 1239.7,782.4 1240.7,779.6 1241.8,776.9 1242.9,774.3 1243.9,771.9 1245.0,769.5 1246.0,767.1 1247.1,764.8 1248.2,762.5 1249.3,760.3 1250.4,758.2 1251.4,756.0 1252.5,753.9 1253.6,751.9 1254.7,750.0 1255.8,748.4 1256.5,747.4 1257.2,746.5 1258.0,745.7 1258.7,744.9 1259.4,744.3 1260.1,743.7 1260.6,743.3 1261.2,743.0 1261.7,742.8 1262.3,742.6 1262.8,742.5 1263.3,742.4 1263.7,742.4 1264.1,742.5 1264.4,742.6 1264.8,742.8 1265.2,743.0 1265.5,743.2 1265.9,743.4 1266.2,743.7 1266.6,744.0 1266.9,744.4 1267.2,744.8 1267.6,745.2 1268.3,746.2 1269.0,747.3 1269.8,748.6 1270.5,750.0 1271.2,751.4 1271.9,752.7 1272.5,754.0 1273.1,755.3 1273.6,756.7 1274.1,758.0 1274.7,759.2 1275.2,760.3 1275.6,761.1 1276.1,762.0 1276.6,762.8 1277.1,763.5 1277.4,764.0 1277.5,764.2 1278.0,743.1 1278.0,741.6 1278.2,737.6 1278.4,731.9 1278.6,725.2 1278.9,718.4 1279.1,712.3 1279.4,705.5 1279.7,698.5 1280.1,691.2 1280.5,683.8 1280.9,676.5 1281.3,669.2 1281.7,661.9 1282.1,654.5 1282.5,647.1 1282.9,639.8 1283.3,632.8 1283.8,626.2 1284.2,621.0 1284.6,615.7 1285.1,610.7 1285.5,605.9 1285.9,601.7 1286.4,598.2 1286.6,596.7 1286.8,595.3 1287.0,594.1 1287.3,592.9 1287.5,591.9 1287.8,591.0 1288.0,590.4 1288.2,589.9 1288.5,589.4 1288.7,588.9 1288.9,588.6 1289.2,588.5 1289.5,588.6 1289.7,588.8 1290.0,589.2 1290.3,589.6 1290.6,590.0 1290.8,590.5 1291.1,591.2 1291.4,592.0 1291.7,592.9 1292.0,593.8 1292.2,594.9 1292.5,596.0 1293.0,598.3 1293.5,600.9 1294.1,603.8 1294.6,606.8 1295.1,610.0 1295.7,613.2 1296.4,617.2 1297.1,621.4 1297.8,625.8 1298.6,630.2 1299.3,634.7 1300.0,639.1 1300.7,643.7 1301.4,648.4 1302.1,653.2 1302.8,657.9 1303.6,662.6 1304.3,667.1 1305.0,671.2 1305.7,675.2 1306.4,679.2 1307.1,683.2 1307.9,687.0 1308.6,690.8 1309.3,694.2 1310.0,697.5 1310.7,700.7 1311.4,703.9 1312.1,707.1 1312.9,710.1 1313.6,712.7 1314.2,715.3 1314.9,717.9 1315.6,720.3 1316.4,722.8 1317.2,725.2 1318.0,727.5 1318.8,729.7 1319.7,732.0 1320.6,734.1 1321.6,736.2 1322.6,738.1 1323.6,739.7 1324.6,741.2 1325.7,742.7 1326.8,744.0 1327.9,745.3 1329.1,746.3 1330.1,747.0 1331.1,747.6 1332.2,748.2 1333.3,748.6 1334.4,749.0 1335.5,749.3 1336.6,749.6 1337.6,749.7 1338.7,749.8 1339.8,749.9 1340.9,750.0 1342.0,750.0 1343.2,750.0 1344.4,750.0 1345.7,749.9 1347.0,749.8 1348.2,749.7 1349.5,749.6 1351.0,749.5 1352.8,749.3 1354.5,749.1 1356.1,749.0 1357.2,748.8 1357.6,748.8" fill="none" stroke="#00f" stroke-width="2.45" stroke-linejoin="round" stroke-linecap="butt" />
</g>
<line x1="824.40" y1="549.45" x2="1358.10" y2="549.45" stroke="#585858" stroke-width="1.05" />
<line x1="1357.60" y1="549.00" x2="1357.60" y2="957.30" stroke="#585858" stroke-width="1.05" />
<line x1="824.40" y1="548.40" x2="824.40" y2="957.35" stroke="#000" stroke-width="2.5" />
<line x1="823.15" y1="956.10" x2="1358.60" y2="956.10" stroke="#000" stroke-width="2.5" />
<line x1="886.60" y1="956.10" x2="886.60" y2="972.20" stroke="#000" stroke-width="2.3" />
<line x1="1102.00" y1="956.10" x2="1102.00" y2="972.20" stroke="#000" stroke-width="2.3" />
<line x1="1317.30" y1="956.10" x2="1317.30" y2="972.20" stroke="#000" stroke-width="2.3" />
<line x1="994.30" y1="956.10" x2="994.30" y2="964.80" stroke="#000" stroke-width="2.3" />
<line x1="1209.60" y1="956.10" x2="1209.60" y2="964.80" stroke="#000" stroke-width="2.3" />
<line x1="807.90" y1="604.85" x2="824.40" y2="604.85" stroke="#000" stroke-width="2.3" />
<line x1="807.90" y1="676.55" x2="824.40" y2="676.55" stroke="#000" stroke-width="2.3" />
<line x1="807.90" y1="748.25" x2="824.40" y2="748.25" stroke="#000" stroke-width="2.3" />
<line x1="807.90" y1="819.95" x2="824.40" y2="819.95" stroke="#000" stroke-width="2.3" />
<line x1="807.90" y1="891.65" x2="824.40" y2="891.65" stroke="#000" stroke-width="2.3" />
<line x1="815.00" y1="569.00" x2="824.40" y2="569.00" stroke="#000" stroke-width="2.3" />
<line x1="815.00" y1="640.70" x2="824.40" y2="640.70" stroke="#000" stroke-width="2.3" />
<line x1="815.00" y1="712.40" x2="824.40" y2="712.40" stroke="#000" stroke-width="2.3" />
<line x1="815.00" y1="784.10" x2="824.40" y2="784.10" stroke="#000" stroke-width="2.3" />
<line x1="815.00" y1="855.80" x2="824.40" y2="855.80" stroke="#000" stroke-width="2.3" />
<line x1="815.00" y1="928.20" x2="824.40" y2="928.20" stroke="#000" stroke-width="2.3" />
<text x="798.50" y="620.25" font-size="48.93" text-anchor="end" textLength="64.78" lengthAdjust="spacingAndGlyphs" >1.0</text>
<text x="798.50" y="691.95" font-size="48.93" text-anchor="end" textLength="64.78" lengthAdjust="spacingAndGlyphs" >0.5</text>
<text x="798.50" y="763.65" font-size="48.93" text-anchor="end" textLength="64.78" lengthAdjust="spacingAndGlyphs" >0.0</text>
<text x="798.50" y="835.35" font-size="48.93" text-anchor="end" textLength="80.30" lengthAdjust="spacingAndGlyphs" >-0.5</text>
<text x="798.50" y="907.05" font-size="48.93" text-anchor="end" textLength="80.30" lengthAdjust="spacingAndGlyphs" >-1.0</text>
<text x="802.40" y="1010.30" font-size="44.50" text-anchor="start" textLength="153.02" lengthAdjust="spacingAndGlyphs" >1.03x10</text>
<text x="955.72" y="988.40" font-size="26.65" text-anchor="start" textLength="14.18" lengthAdjust="spacingAndGlyphs" >8</text>
<text x="1017.80" y="1010.30" font-size="44.50" text-anchor="start" textLength="153.02" lengthAdjust="spacingAndGlyphs" >1.03x10</text>
<text x="1171.12" y="988.40" font-size="26.65" text-anchor="start" textLength="14.18" lengthAdjust="spacingAndGlyphs" >8</text>
<text x="1233.10" y="1010.30" font-size="44.50" text-anchor="start" textLength="153.02" lengthAdjust="spacingAndGlyphs" >1.03x10</text>
<text x="1386.42" y="988.40" font-size="26.65" text-anchor="start" textLength="14.18" lengthAdjust="spacingAndGlyphs" >8</text>
<text x="1058.10" y="528.40" font-size="47.60" text-anchor="middle" textLength="58.18" lengthAdjust="spacingAndGlyphs" >(d)</text>
</svg>
</body></html>
